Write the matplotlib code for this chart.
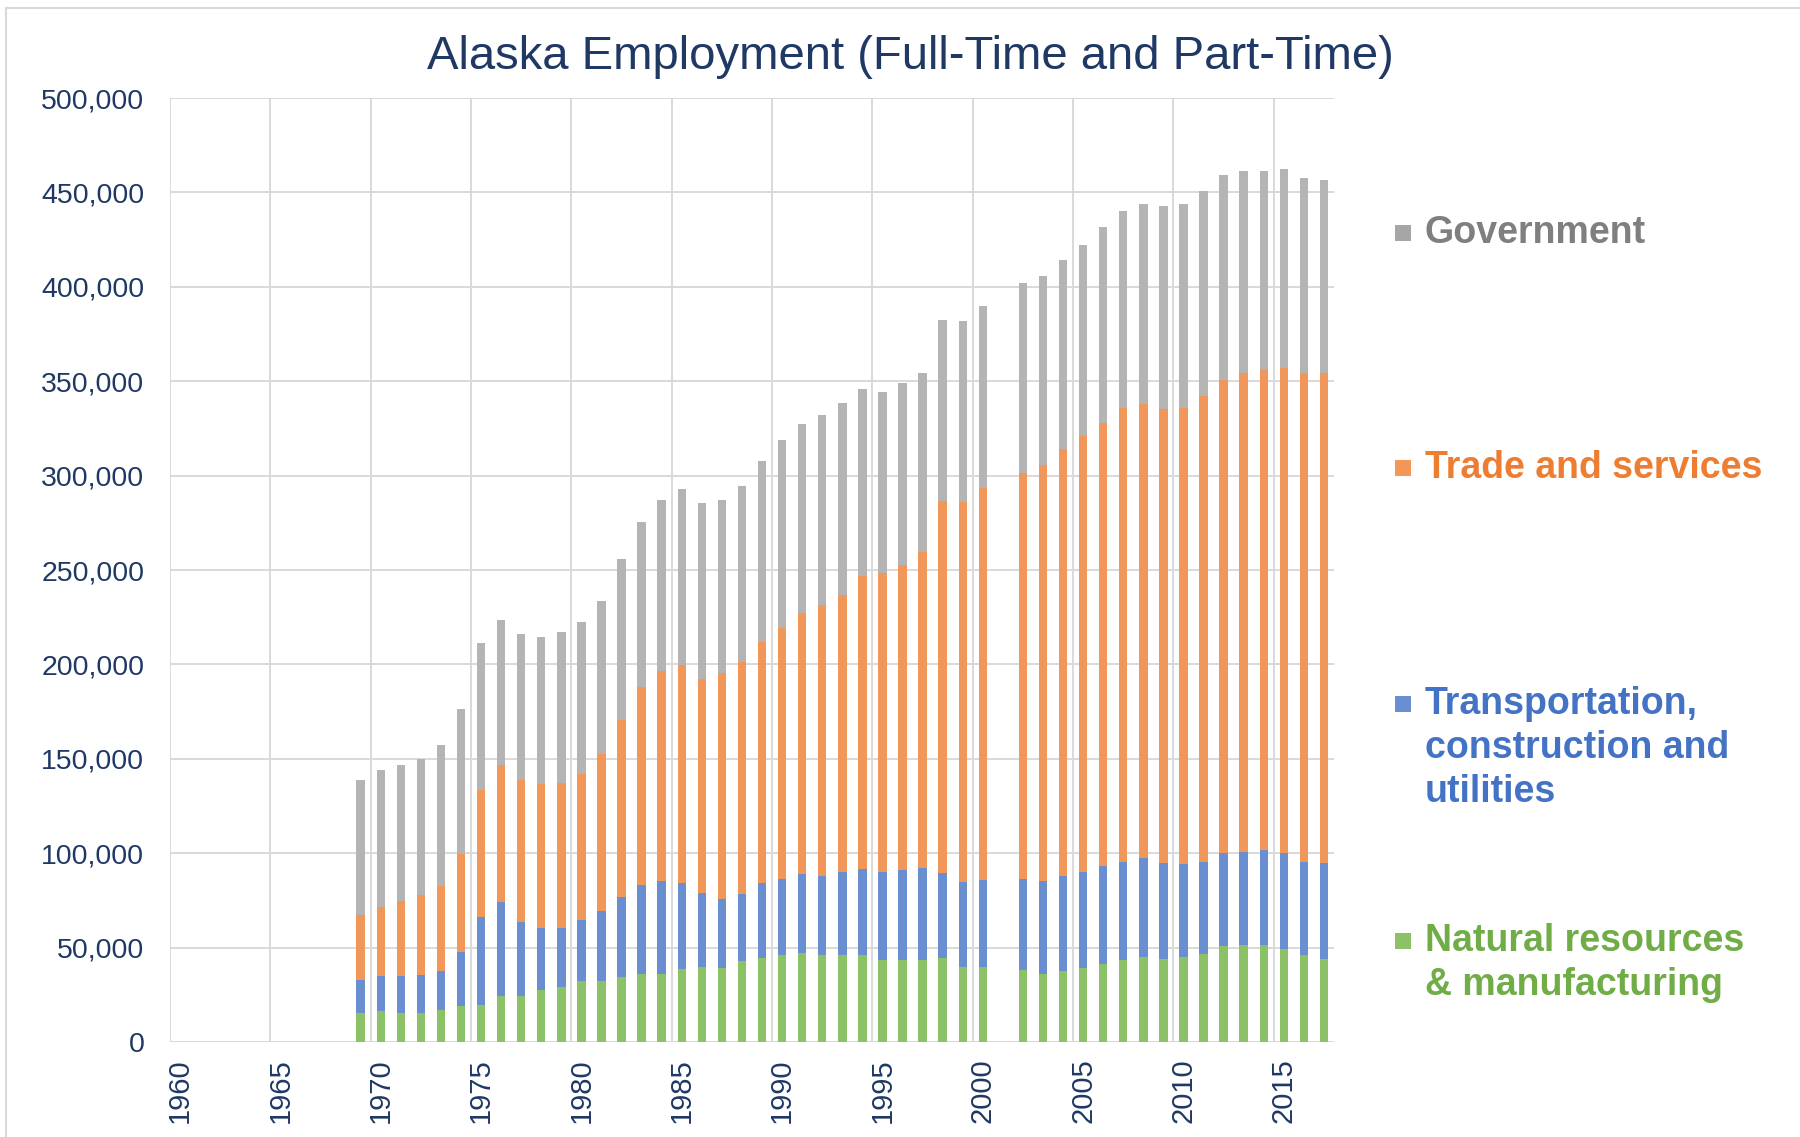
import matplotlib
matplotlib.use("Agg")
import matplotlib.pyplot as plt
from matplotlib.patches import Rectangle
from matplotlib.lines import Line2D
from matplotlib.ticker import FuncFormatter

# Data (2001 has no bar)
years = list(range(1969, 2001)) + list(range(2002, 2018))

natural = [15500, 16200, 15500, 15500, 17200, 18900, 19600, 24600, 24600, 27700,
           29000, 32100, 32100, 34400, 36100, 36100, 38500, 39800, 39200, 42900,
           44600, 45900, 46900, 45900, 45900, 45900, 43600, 43600, 43600, 44600,
           39800, 39800,
           38200, 35800, 37500, 39200, 41500, 43600, 45200, 44200, 45200, 46600,
           50600, 51300, 51300, 49000, 45900, 44200]

transport = [17600, 18600, 19200, 19900, 20600, 28700, 46600, 49600, 38800, 32800,
             31400, 32400, 37100, 42200, 47300, 49000, 45600, 39200, 36800, 35400,
             39500, 40500, 41900, 42200, 44200, 45900, 46600, 47300, 48300, 44900,
             45200, 45900,
             48300, 49300, 50300, 51000, 51700, 52000, 52000, 50600, 49000, 49000,
             49300, 49300, 50300, 51000, 49600, 50600]

trade = [34400, 36800, 39800, 42500, 44900, 52000, 67200, 72300, 75300, 76000,
         76600, 77300, 83400, 93900, 104700, 111400, 115800, 113400, 119500, 123200,
         128000, 132700, 138400, 143100, 146900, 155000, 158000, 161700, 167500, 196800,
         201200, 207600,
         215100, 220500, 226200, 230600, 234600, 240400, 240700, 240400, 241700, 246800,
         250500, 253500, 254600, 256900, 258600, 259300]

government = [71200, 72300, 72300, 72200, 74600, 77000, 77700, 77000, 77300, 78000,
              80300, 80400, 81000, 85100, 87400, 90800, 93200, 93200, 91800, 93200,
              95500, 99900, 99900, 101000, 101600, 98900, 96200, 96200, 94900, 96200,
              95600, 96600,
              100600, 100300, 100300, 101300, 104000, 104300, 106000, 107400, 108000, 108400,
              108700, 107400, 105300, 105300, 103700, 102600]

series = [natural, transport, trade, government]
bar_colors = ["#8CC168", "#6A8FD0", "#F1975A", "#B4B4B4"]

legend_lines = [["Government"],
                ["Trade and services"],
                ["Transportation,", "construction and", "utilities"],
                ["Natural resources", "& manufacturing"]]
legend_text_colors = ["#7F7F7F", "#ED7D31", "#4472C4", "#70AD47"]
legend_marker_colors = ["#A6A6A6", "#F1975A", "#6A8FD0", "#8CC168"]
legend_y = [233, 468, 704, 941]  # first-line centres, pixels from top

tick_years = list(range(1960, 2016, 5))

navy = "#1F3864"
plt.rcParams["font.family"] = ["Liberation Sans", "DejaVu Sans"]

W, H = 1800, 1137
fig = plt.figure(figsize=(W / 100, H / 100), dpi=100)
ax = fig.add_axes([170 / W, 1 - 1042 / H, (1334 - 170) / W, (1042 - 98) / H])

x = [y + 0.5 for y in years]
bottom = [0] * len(years)
for vals, color in zip(series, bar_colors):
    ax.bar(x, vals, width=0.42, bottom=bottom, color=color, linewidth=0, zorder=3)
    bottom = [b + v for b, v in zip(bottom, vals)]

ax.set_xlim(1960, 2018)
ax.set_ylim(0, 500000)
ax.set_yticks(range(0, 500001, 50000))
ax.yaxis.set_major_formatter(FuncFormatter(lambda v, p: f"{int(v):,}"))
ax.set_xticks(tick_years)
ax.set_xticklabels([])
ax.set_xticks([t + 0.5 for t in tick_years], minor=True)
ax.set_xticklabels([str(t) for t in tick_years], minor=True, rotation=90)

ax.grid(True, which="major", color="#D9D9D9", linewidth=1.4, zorder=0)
for s in ax.spines.values():
    s.set_visible(False)
ax.tick_params(which="both", length=0)
ax.tick_params(axis="y", labelsize=20.5, labelcolor=navy, pad=18.5)
ax.tick_params(axis="x", which="minor", labelsize=21, labelcolor=navy, pad=12)

fig.text(910 / W, 1 - 57 / H, "Alaska Employment (Full-Time and Part-Time)",
         fontsize=34, color=navy, ha="center", va="center")

# legend drawn by hand, to the right of the plot
step = 44
for lines, tcol, mcol, y0 in zip(legend_lines, legend_text_colors,
                                 legend_marker_colors, legend_y):
    fig.patches.append(Rectangle(((1403 - 8) / W, 1 - (y0 + 8) / H), 16 / W, 16 / H,
                                 transform=fig.transFigure, facecolor=mcol,
                                 edgecolor="none"))
    for i, line in enumerate(lines):
        fig.text(1425 / W, 1 - (y0 + i * step) / H, line, fontsize=27,
                 fontweight="bold", color=tcol, ha="left", va="center")

# thin chart-area border (left and top only, the rest is cut off)
fig.add_artist(Line2D([6 / W, 6 / W], [0, 1 - 8 / H], color="#D9D9D9", linewidth=1.5))
fig.add_artist(Line2D([6 / W, 1], [1 - 8 / H, 1 - 8 / H], color="#D9D9D9", linewidth=1.5))

fig.savefig("out.png", dpi=100, facecolor="white")
